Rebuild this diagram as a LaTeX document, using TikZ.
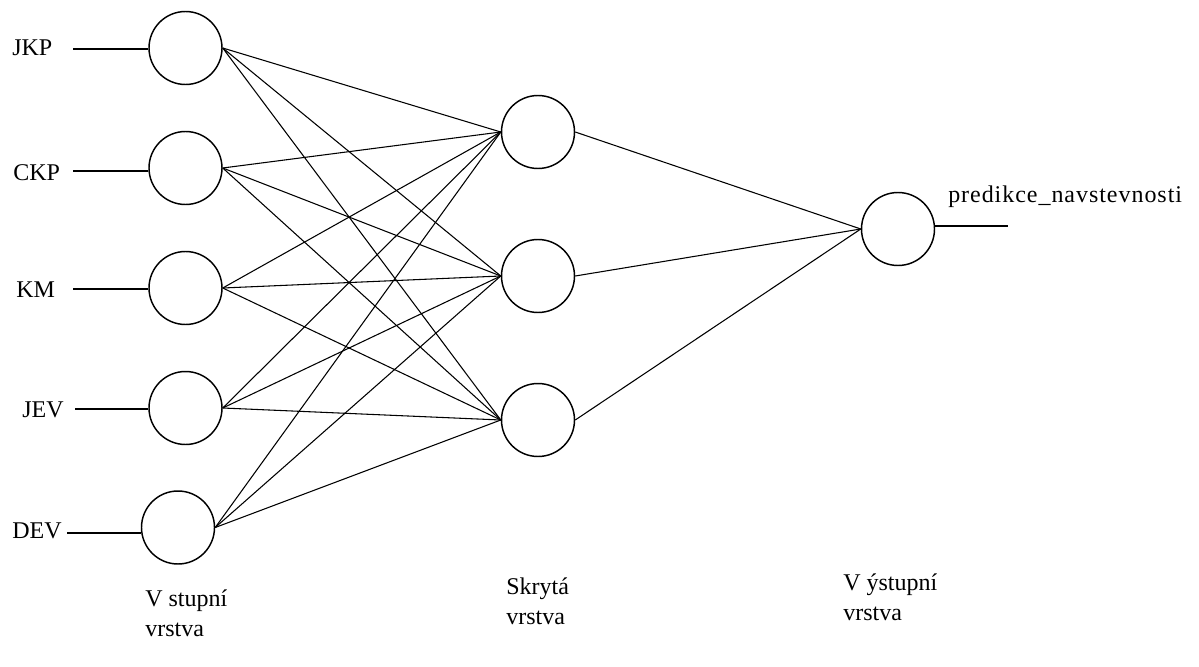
\documentclass[tikz,border=0pt]{standalone}
\usepackage{fontspec}
\setmainfont{Liberation Serif}
\begin{document}
\begin{tikzpicture}[x=0.75pt,y=-0.75pt,
  neuron/.style={circle,draw,line width=1.1pt,inner sep=0pt,minimum size=54.75pt},
  lbl/.style={font=\fontsize{18}{22.5}\selectfont,inner sep=0pt,anchor=base west},
  blbl/.style={font=\fontsize{18}{22.5}\selectfont,inner sep=0pt,anchor=base west,align=left},
  conn/.style={line width=0.8pt}]
\useasboundingbox (0,0) rectangle (1199,667);
% input neurons
\node[neuron] (i1) at (185.5,48) {};
\node[neuron] (i2) at (185.5,168) {};
\node[neuron] (i3) at (185.5,288) {};
\node[neuron] (i4) at (185.5,408) {};
\node[neuron] (i5) at (178,527.5) {};
% hidden neurons
\node[neuron] (h1) at (538,132) {};
\node[neuron] (h2) at (538,276) {};
\node[neuron] (h3) at (538,420) {};
% output neuron
\node[neuron] (o1) at (898,229) {};
% input labels
\node[lbl] (t1) at (12,56) {JKP};
\node[lbl] (t2) at (13,180) {CKP};
\node[lbl] (t3) at (16,297) {KM};
\node[lbl] (t4) at (22,417) {JEV};
\node[lbl] (t5) at (12,538) {DEV};
\coordinate (s1) at (73,49);
\coordinate (s2) at (73,171);
\coordinate (s3) at (73,289);
\coordinate (s4) at (75,409);
\coordinate (s5) at (67,533);
\foreach \k in {1,...,5}{
  \draw[conn] (s\k) -- (s\k -| i\k.west);
}
% input -> hidden
\foreach \k in {1,...,5}{
  \foreach \j in {1,2,3}{
    \draw[conn] (i\k.east) -- (h\j.west);
  }
}
% hidden -> output
\foreach \j in {1,2,3}{
  \draw[conn] (h\j.east) -- (o1.west);
}
\coordinate (oe) at (1008,226);
\draw[conn] (oe -| o1.east) -- (oe);
\node[lbl] (tout) at (948,202) {\addfontfeature{LetterSpace=4}predikce\_navstevnosti};
% layer labels
\node[blbl] (L1) at (145,636) {V stupní\\vrstva};
\node[blbl] (L2) at (506,624) {Skrytá\\vrstva};
\node[blbl] (L3) at (843,620) {V ýstupní\\vrstva};
\end{tikzpicture}
\end{document}
